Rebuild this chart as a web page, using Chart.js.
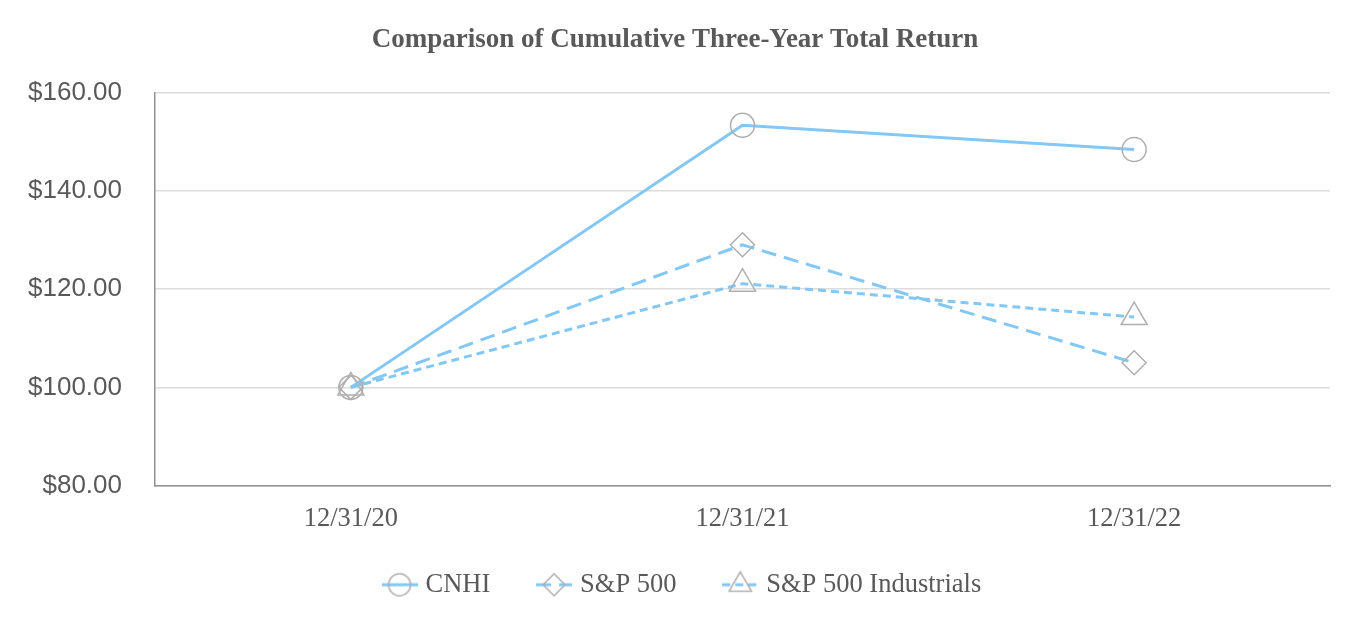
<!DOCTYPE html>
<html>
<head>
<meta charset="utf-8">
<script src="https://cdn.jsdelivr.net/npm/chart.js@4.4.1/dist/chart.umd.min.js"></script>
<style>
  html, body { margin: 0; padding: 0; background: #fff; }
  #wrap { width: 1360px; height: 640px; }
</style>
</head>
<body>
<div id="wrap"><canvas id="myChart" width="1360" height="640"></canvas></div>
<script>
var dates = ['12/31/20', '12/31/21', '12/31/22'];
var cnhi = [100.00, 153.3, 148.4];
var sp500 = [100.00, 129.0, 105.0];
var spIndustrials = [100.00, 121.1, 114.3];
var yTicks = [80, 100, 120, 140, 160];

var lineBlue = '#83c7f4';
var markGrey = '#afafaf';
var serif = '"Liberation Serif", "Times New Roman", serif';
var sans = '"Liberation Sans", Arial, sans-serif';

// small picture for the legend: a line piece with the marker on it
function legendIcon(dash, style, r) {
    var c = document.createElement('canvas');
    c.width = 36;
    c.height = 32;
    var g = c.getContext('2d');
    g.strokeStyle = lineBlue;
    g.lineWidth = 3;
    g.setLineDash(dash);
    g.beginPath();
    g.moveTo(0, 16);
    g.lineTo(36, 16);
    g.stroke();
    g.setLineDash([]);
    g.fillStyle = 'rgba(0,0,0,0)';
    g.strokeStyle = markGrey;
    g.lineWidth = 1.5;
    Chart.helpers.drawPoint(g, {
        pointStyle: style, radius: r, borderWidth: 1.5, rotation: 0
    }, 18, 16);
    return c;
}

function makeSet(label, values, dash, style, r) {
    return {
        label: label,
        data: values,
        borderColor: lineBlue,
        borderWidth: 3,
        borderDash: dash,
        fill: false,
        tension: 0,
        pointStyle: style,
        pointRadius: r,
        pointHoverRadius: r,
        pointBorderColor: markGrey,
        pointBorderWidth: 1.5,
        pointBackgroundColor: 'rgba(0,0,0,0)',
        legendDash: dash
    };
}

var sets = [
    makeSet('CNHI', cnhi, [], 'circle', 12),
    makeSet('S&P 500', sp500, [15, 8], 'rectRot', 12),
    makeSet('S&P 500 Industrials', spIndustrials, [8, 5], 'triangle', 15)
];

// nudge the legend right and up, like the original
var legendShift = {
    id: 'legendShift',
    afterLayout: function (chart) {
        chart.legend.left += 9;
        chart.legend.right += 9;
        chart.legend.top -= 31;
        chart.legend.bottom -= 31;
    }
};

var ctx = document.getElementById('myChart').getContext('2d');
var myChart = new Chart(ctx, {
    type: 'line',
    data: { labels: dates, datasets: sets },
    plugins: [legendShift],
    options: {
        responsive: false,
        animation: false,
        layout: { padding: { left: 20, right: 30, top: 0, bottom: 1 } },
        plugins: {
            tooltip: { enabled: false },
            title: {
                display: true,
                text: 'Comparison of Cumulative Three-Year Total Return',
                color: '#595959',
                font: { family: serif, size: 27, weight: 'bold' },
                padding: { top: 24, bottom: 36 }
            },
            legend: {
                position: 'bottom',
                labels: {
                    usePointStyle: true,
                    pointStyleWidth: 25.5,
                    padding: 51,
                    color: '#595959',
                    font: { family: serif, size: 26.5 },
                    generateLabels: function (chart) {
                        return chart.data.datasets.map(function (ds, i) {
                            return {
                                text: ds.label,
                                datasetIndex: i,
                                pointStyle: legendIcon(ds.legendDash, ds.pointStyle, ds.pointStyle === 'triangle' ? 13 : 11),
                                fontColor: '#595959',
                                lineWidth: 0,
                                hidden: false
                            };
                        });
                    }
                }
            }
        },
        scales: {
            x: {
                offset: true,
                grid: { display: false, drawTicks: false },
                border: { color: '#8f8f8f', width: 1.5 },
                ticks: {
                    color: '#595959',
                    padding: 17,
                    font: { family: serif, size: 26.5 }
                }
            },
            y: {
                min: yTicks[0],
                max: yTicks[yTicks.length - 1],
                afterFit: function (axis) { axis.width = 135; },
                afterBuildTicks: function (axis) {
                    axis.ticks = yTicks.map(function (v) { return { value: v }; });
                },
                grid: { color: '#dcdcdc', lineWidth: 1.5, drawTicks: false },
                border: { color: '#8f8f8f', width: 1.5 },
                ticks: {
                    color: '#595959',
                    padding: 33,
                    font: { family: sans, size: 26 },
                    callback: function (v) { return '$' + Number(v).toFixed(2); }
                }
            }
        }
    }
});
</script>
</body>
</html>
